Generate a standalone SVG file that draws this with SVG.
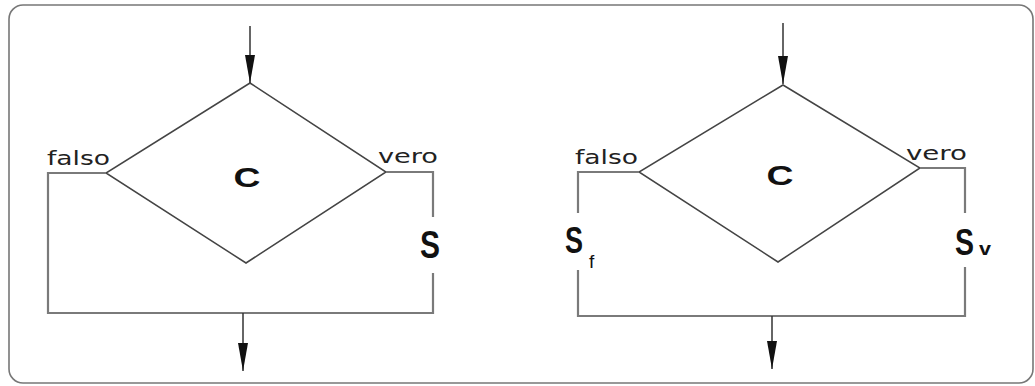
<svg xmlns="http://www.w3.org/2000/svg" width="1035" height="386" viewBox="0 0 1035 386">
<style>
.frame{fill:#fff;stroke:#777;stroke-width:1.6}
.dia{fill:none;stroke:#444;stroke-width:1.5;stroke-linejoin:miter}
.con{fill:none;stroke:#7a7a7a;stroke-width:2.2}
.arr{fill:none;stroke:#333;stroke-width:1.5}
.lbl{font-family:"DejaVu Sans",sans-serif;font-size:20px;fill:#222}
.big{font-family:"Liberation Sans",Arial,sans-serif;font-weight:bold;fill:#111}
.sub{font-family:"Liberation Sans",Arial,sans-serif;fill:#111;font-size:19px}
</style>
<defs>
<marker id="ah" viewBox="0 0 28 10" refX="28" refY="5" markerWidth="28" markerHeight="10" markerUnits="userSpaceOnUse" orient="auto">
<path d="M0,0 L28,5 L0,10 z" fill="#111"/>
</marker>
</defs>
<rect x="0" y="0" width="1035" height="386" fill="#fff"/>
<rect class="frame" x="9" y="5" width="1024" height="378" rx="14"/>

<g id="left-decision">
<polygon class="dia" points="250,83 386,172 246,263 106,173"/>
<text class="big" x="247" y="187" font-size="28" text-anchor="middle" textLength="27" lengthAdjust="spacingAndGlyphs">C</text>
</g>
<g id="left-S">
<text class="big" x="430" y="258" font-size="38" text-anchor="middle" textLength="20" lengthAdjust="spacingAndGlyphs">S</text>
</g>
<g id="left-labels">
<text class="lbl" x="47" y="165" textLength="63" lengthAdjust="spacingAndGlyphs">falso</text>
<text class="lbl" x="378" y="163" textLength="60" lengthAdjust="spacingAndGlyphs">vero</text>
</g>

<g id="right-decision">
<polygon class="dia" points="783,85 920,168 778,262 639,172"/>
<text class="big" x="780" y="185" font-size="28" text-anchor="middle" textLength="27" lengthAdjust="spacingAndGlyphs">C</text>
</g>
<g id="right-Sf">
<text class="big" x="565" y="253" font-size="36" textLength="18" lengthAdjust="spacingAndGlyphs">S</text>
<text class="sub" x="589" y="268">f</text>
</g>
<g id="right-Sv">
<text class="big" x="955" y="255" font-size="37" textLength="19" lengthAdjust="spacingAndGlyphs">S</text>
<text class="sub" x="979" y="255" font-weight="bold" textLength="12" lengthAdjust="spacingAndGlyphs">v</text>
</g>
<g id="right-labels">
<text class="lbl" x="575" y="164" textLength="63" lengthAdjust="spacingAndGlyphs">falso</text>
<text class="lbl" x="906" y="160" textLength="61" lengthAdjust="spacingAndGlyphs">vero</text>
</g>

<g id="connectors">
<line class="arr" x1="250" y1="26" x2="250" y2="83" marker-end="url(#ah)"/>
<polyline class="con" points="106,173 48,173 48,313 433,313 433,273"/>
<polyline class="con" points="386,172 433,172 433,217"/>
<line class="arr" x1="243" y1="313" x2="243" y2="371" marker-end="url(#ah)"/>

<line class="arr" x1="783" y1="23" x2="783" y2="84" marker-end="url(#ah)"/>
<polyline class="con" points="639,172 578,172 578,213"/>
<polyline class="con" points="578,270 578,316 965,316 965,267"/>
<polyline class="con" points="920,168 965,168 965,213"/>
<line class="arr" x1="772" y1="316" x2="772" y2="369" marker-end="url(#ah)"/>
</g>
</svg>
